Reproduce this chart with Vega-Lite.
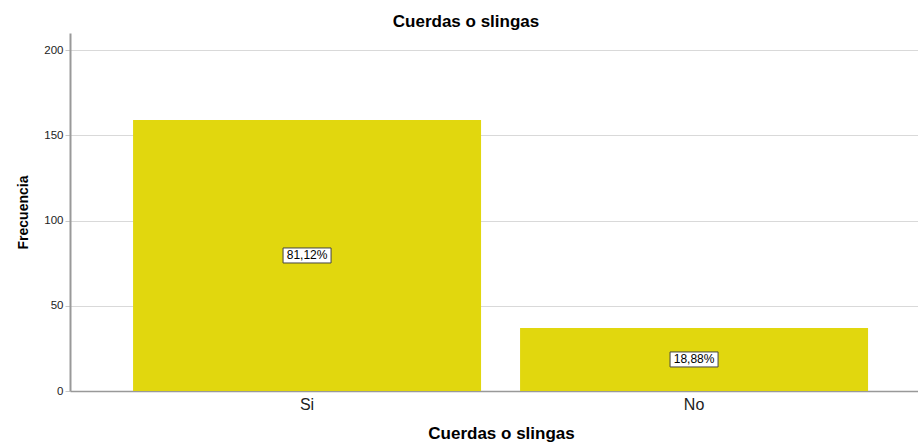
{
  "$schema": "https://vega.github.io/schema/vega-lite/v6.json",
  "width": 848,
  "height": 358,
  "autosize": "none",
  "padding": {"left": 70, "top": 33, "right": 0, "bottom": 52},
  "background": "white",
  "config": {
    "view": {"stroke": null},
    "font": "Liberation Sans"
  },
  "title": {
    "text": "Cuerdas o slingas",
    "font": "Liberation Sans",
    "fontSize": 17,
    "fontWeight": "bold",
    "color": "#000000",
    "anchor": "middle",
    "baseline": "alphabetic",
    "offset": 6,
    "dy": 17,
    "dx": -28
  },
  "data": {
    "values": [
      {"categoria": "Si", "frecuencia": 159, "porcentaje": "81,12%"},
      {"categoria": "No", "frecuencia": 37, "porcentaje": "18,88%"}
    ]
  },
  "encoding": {
    "x": {
      "field": "categoria",
      "type": "nominal",
      "sort": ["Si", "No"],
      "scale": {"paddingInner": 0.1008, "paddingOuter": 0.146, "align": 0.558},
      "axis": {
        "title": "Cuerdas o slingas",
        "titleFont": "Liberation Sans",
        "titleFontSize": 17,
        "titleFontWeight": "bold",
        "titleColor": "#000000",
        "titlePadding": 13,
        "titleX": 431,
        "labelFont": "Liberation Sans",
        "labelFontSize": 16,
        "labelColor": "#222222",
        "labelAngle": 0,
        "labelPadding": 5,
        "ticks": false,
        "grid": false,
        "domainColor": "#999999",
        "domainWidth": 1.5
      }
    }
  },
  "layer": [
    {
      "mark": {"type": "bar", "color": "#e1d70e"},
      "encoding": {
        "y": {
          "field": "frecuencia",
          "type": "quantitative",
          "scale": {"domain": [0, 210], "nice": false},
          "axis": {
            "title": "Frecuencia",
            "titleFont": "Liberation Sans",
            "titleFontSize": 14,
            "titleFontWeight": "bold",
            "titleColor": "#000000",
            "titlePadding": 13,
            "values": [0, 50, 100, 150, 200],
            "labelFont": "Liberation Sans",
            "labelFontSize": 11.5,
            "labelColor": "#222222",
            "labelPadding": 2,
            "tickSize": 5,
            "tickColor": "#c8c8c8",
            "tickWidth": 1,
            "gridColor": "#d9d9d9",
            "gridWidth": 1,
            "domainColor": "#999999",
            "domainWidth": 2
          }
        }
      }
    },
    {
      "mark": {
        "type": "point",
        "shape": "M-1,-0.3125H1V0.3125H-1Z",
        "size": 2304,
        "filled": true,
        "fill": "#ffffff",
        "stroke": "#444444",
        "strokeWidth": 1,
        "opacity": 1
      },
      "encoding": {
        "y": {
          "field": "frecuencia",
          "type": "quantitative",
          "scale": {"domain": [0, 420], "nice": false},
          "axis": null
        }
      }
    },
    {
      "mark": {
        "type": "text",
        "font": "Liberation Sans",
        "fontSize": 12,
        "color": "#000000",
        "align": "center",
        "baseline": "middle"
      },
      "encoding": {
        "y": {
          "field": "frecuencia",
          "type": "quantitative",
          "scale": {"domain": [0, 420], "nice": false},
          "axis": null
        },
        "text": {"field": "porcentaje", "type": "nominal"}
      }
    }
  ],
  "resolve": {"scale": {"y": "independent"}}
}
